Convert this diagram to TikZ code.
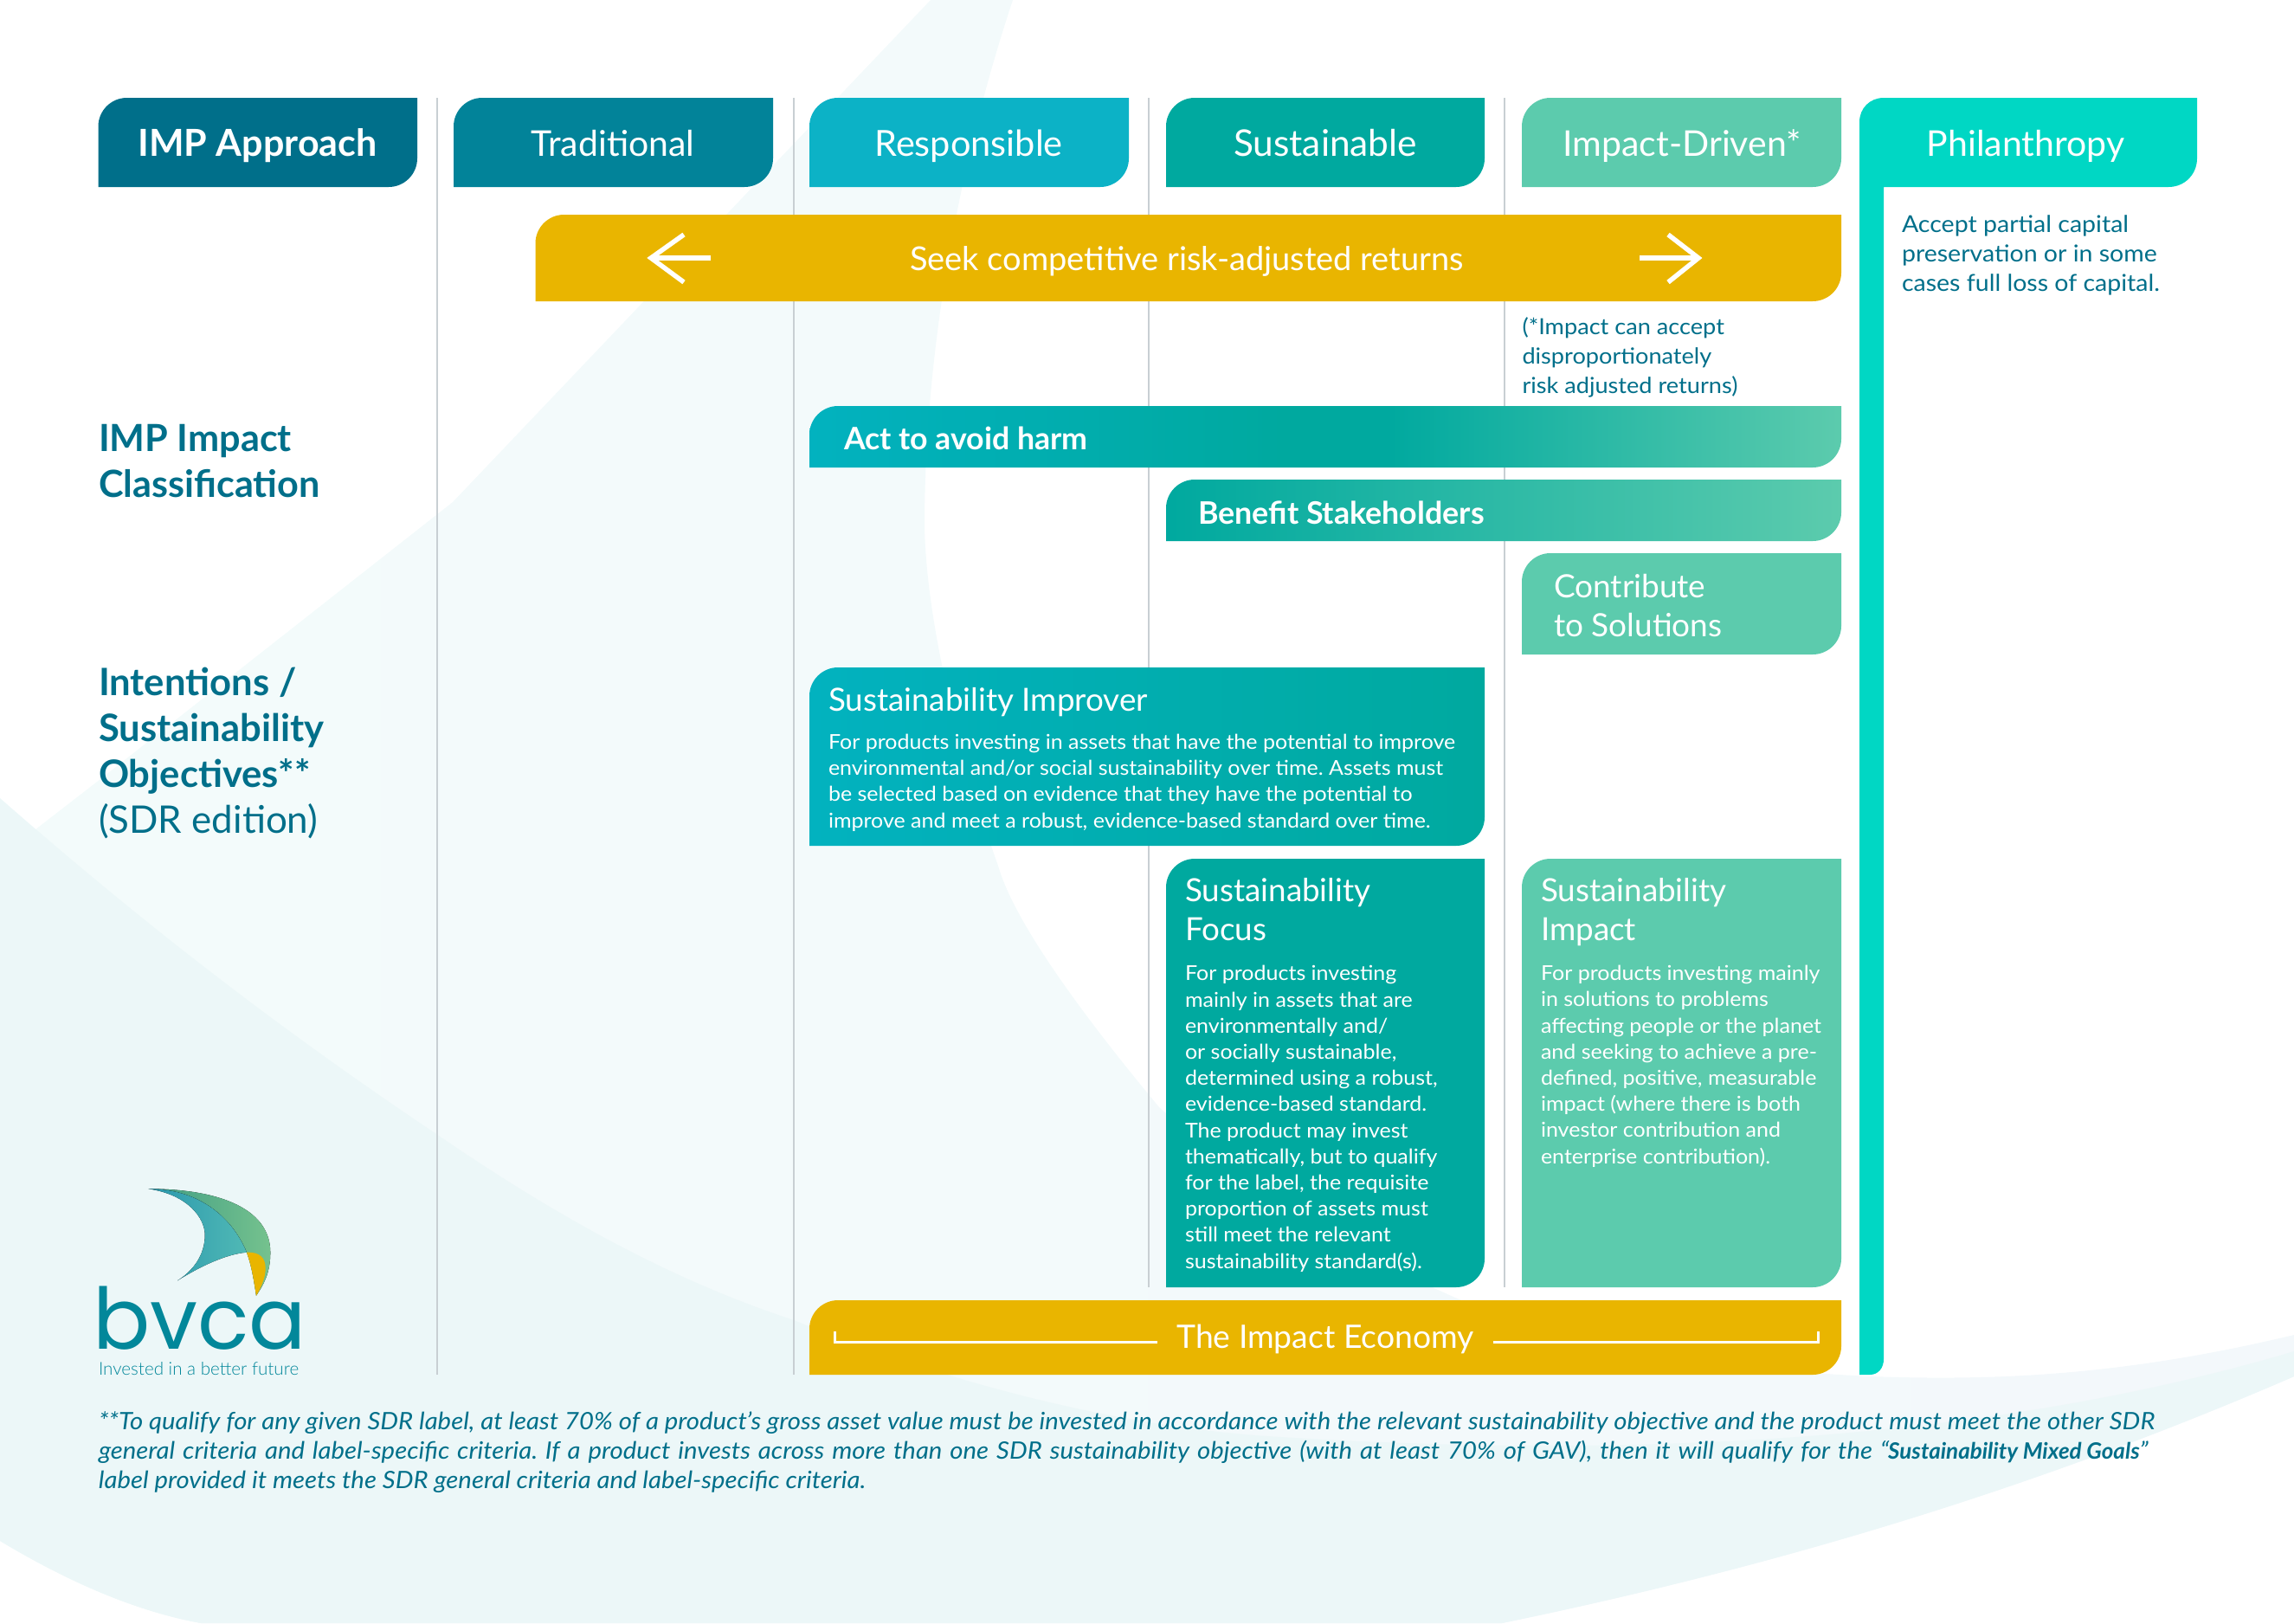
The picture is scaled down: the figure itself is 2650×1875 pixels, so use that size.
\documentclass[tikz,border=0pt]{standalone}
\usepackage{fontspec}
\setmainfont{Lato}
\newfontfamily\lightf{Lato Light}
\newfontfamily\widef{Lato}[FakeStretch=1.06]
\newfontfamily\plainf{Lato}
\newfontfamily\logof{Poppins}
\AtBeginDocument{\frenchspacing}
\definecolor{cimp}{HTML}{006F8A}
\definecolor{ctrad}{HTML}{028399}
\definecolor{cresp}{HTML}{0CB2C6}
\definecolor{cact}{HTML}{02B2BF}
\definecolor{csust}{HTML}{00A99F}
\definecolor{cdriv}{HTML}{5CCBAD}
\definecolor{cphil}{HTML}{00D7C4}
\definecolor{cyel}{HTML}{E9B500}
\definecolor{cgrid}{HTML}{C8CFD3}
\definecolor{cbgL}{HTML}{F3FBFB}
\definecolor{cbgA}{HTML}{F3F8FB}
\definecolor{cbgB}{HTML}{ECF7F8}
\definecolor{clogo}{HTML}{02879A}
\definecolor{lg1}{HTML}{3F9C83}
\definecolor{lg2}{HTML}{75C28E}
\definecolor{lb1}{HTML}{2A97AD}
\definecolor{lb2}{HTML}{50B9B5}
\pgfdeclarehorizontalshading{actbar}{100bp}{color(0bp)=(cact); color(25bp)=(cact); color(48bp)=(csust); color(53bp)=(csust); color(75bp)=(cdriv); color(100bp)=(cdriv)}
\newcommand\bx[6][]{%
  \path[#6] ({#2},{#5}) -- ({#2},{#3+#1}) .. controls ({#2},{#3+.45*#1}) and ({#2+.45*#1},{#3}) .. ({#2+#1},{#3}) -- ({#4},{#3}) -- ({#4},{#5-#1}) .. controls ({#4},{#5-.45*#1}) and ({#4-.45*#1},{#5}) .. ({#4-#1},{#5}) -- cycle;}
\tikzset{
  every node/.style={inner sep=0pt,outer sep=0pt},
  hd/.style={text=white,anchor=base,font=\fontsize{41}{41}\selectfont},
  wh/.style={text=white,anchor=base west,align=left},
  tl/.style={text=cimp,anchor=base west,align=left},
  ttl/.style={font=\fontsize{36.8}{45}\selectfont},
  body/.style={font=\widef\fontsize{23.6}{30.2}\selectfont},
  note/.style={font=\widef\fontsize{26.9}{33.7}\selectfont},
  grid/.style={draw=cgrid,line width=2pt},
  wline/.style={draw=white,line width=3pt}
}
\begin{document}
\begin{tikzpicture}[x=1pt,y=-1pt]
\useasboundingbox (0,0) rectangle (2650,1875);
% background shapes
\path[left color=cbgL,right color=cbgA] (1075,0) -- (523,580) -- (116,900) -- (0,990) -- (0,1780) .. controls (70,1822) and (150,1860) .. (232,1875) -- (1735,1875) .. controls (2050,1810) and (2350,1720) .. (2650,1590) -- (2650,1542) .. controls (2450,1590) and (2300,1595) .. (2161,1590) .. controls (1950,1580) and (1780,1540) .. (1688,1502) .. controls (1500,1420) and (1420,1350) .. (1339,1279) .. controls (1240,1160) and (1170,1060) .. (1153,1000) .. controls (1110,880) and (1070,720) .. (1068,608) .. controls (1068,400) and (1110,180) .. (1170,0) -- cycle;
\fill[cbgB] (0,922) .. controls (180,1080) and (340,1200) .. (504,1310) .. controls (650,1410) and (780,1480) .. (917,1525) .. controls (1100,1600) and (1300,1650) .. (1480,1660) .. controls (1800,1680) and (2250,1680) .. (2650,1561) -- (2650,1590) .. controls (2350,1720) and (2050,1810) .. (1735,1875) -- (232,1875) .. controls (150,1860) and (70,1822) .. (0,1780) -- cycle;
% column rules
\foreach \gx/\gy in {504.5/1588,917/1588,1327/1487,1738/1487} \draw[grid] (\gx,113) -- (\gx,\gy);
% header boxes
\bx[33]{113.5}{113}{482}{216}{fill=cimp}
\bx[33]{524}{113}{893}{216}{fill=ctrad}
\bx[33]{935}{113}{1304}{216}{fill=cresp}
\bx[33]{1347}{113}{1715}{216}{fill=csust}
\bx[33]{1758}{113}{2127}{216}{fill=cdriv}
\fill[cphil] (2148,1588) -- (2148,141) .. controls (2148,125) and (2160,113) .. (2176,113) -- (2538,113) -- (2538,183) .. controls (2538,201) and (2524,216) .. (2505,216) -- (2176,216) -- (2176,1570) .. controls (2176,1580) and (2170,1588) .. (2160,1588) -- cycle;
\node[hd,font=\bfseries\fontsize{43}{43}\selectfont] (himp) at (297.5,180) {IMP Approach};
\node[hd] (htrad) at (708,180) {Traditional};
\node[hd,font=\fontsize{41.5}{41.5}\selectfont] (hresp) at (1119,180) {Responsible};
\node[hd,font=\fontsize{42.4}{42.4}\selectfont] (hsust) at (1531,180) {Sustainable};
\node[hd] (hdriv) at (1943,180) {Impact-Driven*};
\node[hd] (hphil) at (2340,180) {Philanthropy};
% returns bar
\bx[33]{618.5}{248}{2127}{348}{fill=cyel}
\node[hd,font=\fontsize{38}{38}\selectfont] (seek) at (1371,312) {Seek competitive risk-adjusted returns};
\coordinate (ltip) at (752,298); \coordinate (ltail) at (821,298);
\coordinate (rtip) at (1962,298); \coordinate (rtail) at (1894,298);
\draw[white,line width=5.5pt] (ltail) -- (ltip);
\draw[white,line width=5.5pt] (790,271) -- (ltip) -- (790,326);
\draw[white,line width=5.5pt] (rtail) -- (rtip);
\draw[white,line width=5.5pt] (1927,271) -- (rtip) -- (1927,326);
\node[tl,note,font=\widef\fontsize{25.6}{33.7}\selectfont] (impnote) at (1758.5,454) {(*Impact can accept\\disproportionately\\risk adjusted returns)};
\node[tl,note] (philnote) at (2197,336) {Accept partial capital\\preservation or in some\\cases full loss of capital.};
% left labels
\node[tl,font=\bfseries\fontsize{43.2}{53}\selectfont] (cls) at (114,574) {IMP Impact\\Classification};
\node[tl,font=\fontsize{43.9}{53}\selectfont] (obj) at (114,962) {{\fontsize{43.6}{53}\selectfont\bfseries Intentions /}\\{\fontsize{43.6}{53}\selectfont\bfseries Sustainability}\\{\fontsize{43.6}{53}\selectfont\bfseries Objectives**}\\(SDR edition)};
% classification bars
\bx[33]{935}{469}{2127}{540}{shading=actbar}
\node[wh,font=\bfseries\fontsize{35.7}{36}\selectfont] (act) at (975,519) {Act to avoid harm};
\bx[33]{1347}{554}{2127}{625}{left color=csust,right color=cdriv}
\node[wh,font=\bfseries\fontsize{35.8}{36}\selectfont] (ben) at (1384,605) {Benefit Stakeholders};
\bx[33]{1758}{639}{2127}{756}{fill=cdriv}
\node[wh,font=\fontsize{37}{45}\selectfont] (con) at (1795,735) {Contribute\\to Solutions};
% objectives
\bx[33]{935}{771}{1715}{977}{left color=cact,right color=csust}
\node[wh,ttl] (imp) at (957,821) {Sustainability Improver};
\node[wh,body] (impb) at (957,956) {For products investing in assets that have the potential to improve\\environmental and/or social sustainability over time. Assets must\\be selected based on evidence that they have the potential to\\improve and meet a robust, evidence-based standard over time.};
\bx[33]{1347}{992}{1715}{1487}{fill=csust}
\node[wh,ttl] (foc) at (1369,1086) {Sustainability\\Focus};
\node[wh,body] (focb) at (1369,1465) {For products investing\\mainly in assets that are\\environmentally and/\\or socially sustainable,\\determined using a robust,\\evidence-based standard.\\The product may invest\\thematically, but to qualify\\for the label, the requisite\\proportion of assets must\\still meet the relevant\\sustainability standard(s).};
\bx[33]{1758}{992}{2127}{1487}{fill=cdriv}
\node[wh,ttl] (sim) at (1780,1086) {Sustainability\\Impact};
\node[wh,body] (simb) at (1780,1344) {For products investing mainly\\in solutions to problems\\affecting people or the planet\\and seeking to achieve a pre-\\defined, positive, measurable\\impact (where there is both\\investor contribution and\\enterprise contribution).};
% impact economy
\bx[33]{935}{1502}{2127}{1588}{fill=cyel}
\node[hd,font=\fontsize{37.3}{37.3}\selectfont] (eco) at (1531,1557) {The Impact Economy};
\draw[wline,line width=3pt] (964,1538) -- (964,1550) -- (1337,1550);
\draw[wline,line width=3pt] (2100,1538) -- (2100,1550) -- (1725,1550);
% logo
\fill[left color=lg1,right color=lg2] (171.7,1373.3) .. controls (246.7,1373.3) and (312.3,1393.3) .. (312.3,1446.7) .. controls (312.3,1470) and (305,1483) .. (296,1496.7) .. controls (293,1476.7) and (290,1460) .. (285,1446.7) .. controls (266.7,1403) and (226.7,1373.3) .. (171.7,1373.3) -- cycle;
\fill[left color=lb1,right color=lb2] (171.7,1373.3) .. controls (216.7,1380) and (236.7,1406.7) .. (236.7,1426.7) .. controls (236.7,1450) and (223,1468) .. (205,1479.3) .. controls (233,1461.7) and (263,1448.3) .. (285,1446.7) .. controls (266.7,1403) and (226.7,1373.3) .. (171.7,1373.3) -- cycle;
\fill[cyel] (285,1446.7) .. controls (300,1446) and (306.7,1453) .. (306.7,1465) .. controls (306.7,1476.7) and (301.7,1486.7) .. (296,1496.7) .. controls (293,1476.7) and (290,1460) .. (285,1446.7) -- cycle;
\node[anchor=base west,text=clogo,font=\logof\fontsize{98}{98}\selectfont] (bvca) at (107,1558) {bvca};
\node[anchor=base west,text=clogo,font=\lightf\fontsize{20.6}{22}\selectfont] (tag) at (114,1588) {Invested in a better future};
% footnote
\node[tl,font=\widef\itshape\fontsize{27.66}{34}\selectfont,text=cimp] (foot) at (114,1719) {**To qualify for any given SDR label, at least 70\% of a product’s gross asset value must be invested in accordance with the relevant sustainability objective and the product must meet the other SDR\\{\spaceskip=8.9pt general criteria and label-specific criteria. If a product invests across more than one SDR sustainability objective (with at least 70\% of GAV), then it will qualify for the “}{\plainf\bfseries\itshape\fontsize{26}{34}\selectfont Sustainability Mixed Goals}”\\label provided it meets the SDR general criteria and label-specific criteria.};
\end{tikzpicture}
\end{document}
